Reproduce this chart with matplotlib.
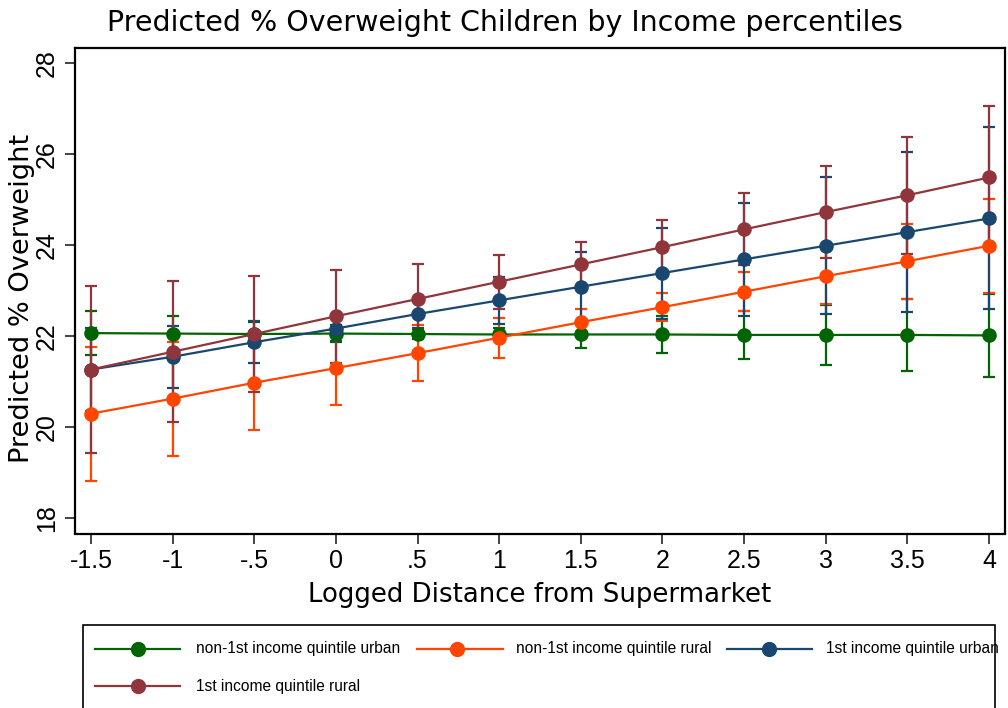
import matplotlib
matplotlib.use("Agg")
import matplotlib.pyplot as plt
from matplotlib.lines import Line2D
from matplotlib.patches import Rectangle

plt.rcParams['font.family'] = ['Liberation Sans', 'DejaVu Sans']

# Logged distance grid
distance = [-1.5, -1.0, -0.5, 0.0, 0.5, 1.0, 1.5, 2.0, 2.5, 3.0, 3.5, 4.0]
x_tick_labels = ["-1.5", "-1", "-.5", "0", ".5", "1", "1.5", "2", "2.5", "3", "3.5", "4"]
y_ticks = [18, 20, 22, 24, 26, 28]

# Predicted % overweight (margins) and half-width of 95% CI
urban_other = [22.07, 22.06, 22.05, 22.06, 22.05, 22.04, 22.04, 22.04, 22.03, 22.03, 22.03, 22.02]
urban_other_ci = [0.49, 0.38, 0.27, 0.18, 0.12, 0.15, 0.29, 0.41, 0.53, 0.66, 0.79, 0.91]

rural_other = [20.30, 20.63, 20.98, 21.30, 21.63, 21.97, 22.31, 22.64, 22.98, 23.32, 23.65, 23.99]
rural_other_ci = [1.47, 1.25, 1.05, 0.82, 0.61, 0.44, 0.30, 0.31, 0.43, 0.62, 0.82, 1.03]

urban_q1 = [21.27, 21.55, 21.87, 22.17, 22.49, 22.79, 23.09, 23.39, 23.69, 23.99, 24.29, 24.59]
urban_q1_ci = [0.91, 0.68, 0.46, 0.28, 0.30, 0.52, 0.76, 1.00, 1.24, 1.50, 1.76, 2.00]

rural_q1 = [21.27, 21.66, 22.05, 22.44, 22.82, 23.20, 23.58, 23.96, 24.35, 24.73, 25.10, 25.49]
rural_q1_ci = [1.83, 1.55, 1.28, 1.02, 0.77, 0.59, 0.50, 0.60, 0.79, 1.02, 1.29, 1.57]

series_names = ["non-1st income quintile urban", "non-1st income quintile rural",
                "1st income quintile urban", "1st income quintile rural"]
series_vals = [urban_other, rural_other, urban_q1, rural_q1]
series_ci = [urban_other_ci, rural_other_ci, urban_q1_ci, rural_q1_ci]
colors = ["#006400", "#ff4500", "#1a476f", "#90353b"]

W, H = 1008, 708
fig = plt.figure(figsize=(W / 100, H / 100), dpi=100)
fig.patch.set_facecolor("white")


def fx(px):
    return px / W


def fy(py):
    return 1 - py / H


ax = fig.add_axes([fx(75), fy(533.5), fx(1004.7) - fx(75), fy(47.5) - fy(533.5)])

# confidence intervals first, then the connected point estimates on top
for vals, ci, col in zip(series_vals, series_ci, colors):
    ax.errorbar(distance, vals, yerr=ci, fmt="none", ecolor=col, elinewidth=1.6,
                capsize=4, capthick=1.6, zorder=2)
for vals, col in zip(series_vals, colors):
    ax.plot(distance, vals, color=col, lw=1.6, marker="o", markersize=10.5,
            markeredgewidth=0, zorder=3)

ax.set_xlim(-1.598, 4.096)
ax.set_ylim(17.666, 28.347)
ax.set_xticks(distance)
ax.set_xticklabels(x_tick_labels)
ax.set_yticks(y_ticks)
ax.set_yticklabels([str(v) for v in y_ticks], rotation=90, va="center")

ax.tick_params(axis="both", direction="out", length=7.5, width=1.2, labelsize=18,
               color="#222222")
ax.tick_params(axis="x", pad=3.5)
ax.tick_params(axis="y", pad=4)
for sp in ax.spines.values():
    sp.set_linewidth(1.6)
    sp.set_color("black")

wide = ['DejaVu Sans']
fig.text(fx(505), fy(31), "Predicted % Overweight Children by Income percentiles",
         ha="center", va="baseline", fontsize=20.5, family=wide)
fig.text(fx(540), fy(602), "Logged Distance from Supermarket",
         ha="center", va="baseline", fontsize=18.7, family=wide)
fig.text(fx(22), fy(298), "Predicted % Overweight", rotation=90,
         ha="center", va="center", fontsize=19.6, family=wide)

# legend box and entries
fig.patches.append(Rectangle((fx(83), fy(712)), fx(995) - fx(83), fy(625) - fy(712),
                             transform=fig.transFigure, fill=False, lw=1.2,
                             edgecolor="black", zorder=1))
entry_slots = [(95, 180, 138, 196, 649), (417, 503, 457, 516, 649),
               (727, 812, 769, 826, 649), (95, 180, 138, 196, 686)]
for name, col, (x0, x1, xm, xt, yr) in zip(series_names, colors, entry_slots):
    fig.add_artist(Line2D([fx(x0), fx(x1)], [fy(yr), fy(yr)], transform=fig.transFigure,
                          color=col, lw=1.6))
    fig.add_artist(Line2D([fx(xm)], [fy(yr)], transform=fig.transFigure, color=col,
                          marker="o", markersize=11, markeredgewidth=0))
    fig.text(fx(xt), fy(yr), name, ha="left", va="center", fontsize=11.2, zorder=3)

fig.savefig("out.png", dpi=100, facecolor="white")
